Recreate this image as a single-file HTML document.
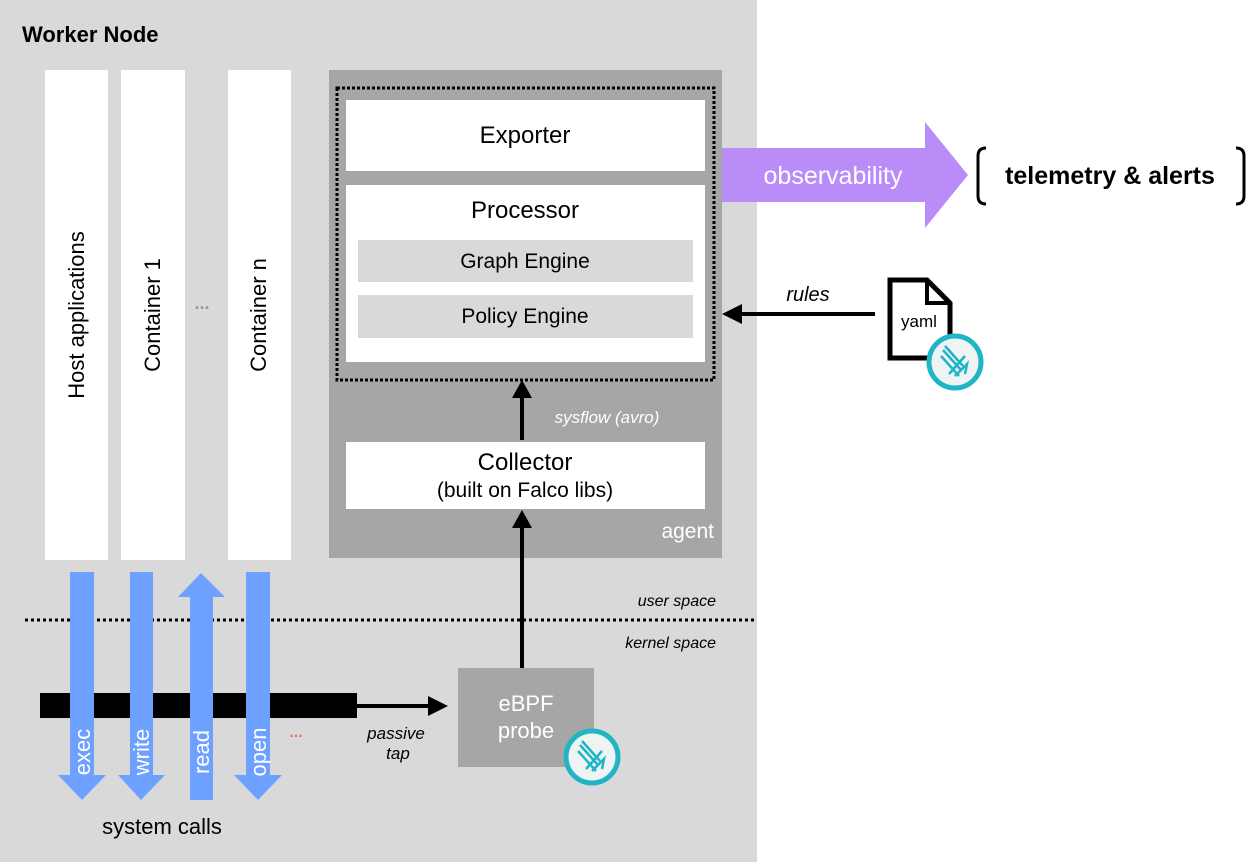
<!DOCTYPE html>
<html><head><meta charset="utf-8"><style>
body{margin:0;width:1252px;height:862px;background:#fff;overflow:hidden;font-family:"Liberation Sans",sans-serif}
</style></head><body>
<svg width="1252" height="862" xmlns="http://www.w3.org/2000/svg" font-family="Liberation Sans, sans-serif">
<defs>
<g id="falco">
<circle r="26" fill="#eef3f3" stroke="#1fb5c4" stroke-width="5"/>
<g stroke="#1fb5c4" stroke-width="2.5" fill="none">
<path d="M-12,-12 L6,8 M-14,-6 L4,14 M-10,-16 L8,4"/>
<path d="M-6,12 L10,-6 M0,14 L12,2 L10,12"/>
</g>
</g>
</defs>
<rect x="0" y="0" width="757" height="862" fill="#d9d9d9"/>
<text x="22" y="42" font-size="22" font-weight="bold" fill="#000">Worker Node</text>
<rect x="45" y="70" width="63" height="490" fill="#fff"/>
<rect x="121" y="70" width="64" height="490" fill="#fff"/>
<rect x="228" y="70" width="63" height="490" fill="#fff"/>
<text transform="translate(84,315) rotate(-90)" text-anchor="middle" font-size="22">Host applications</text>
<text transform="translate(160,315) rotate(-90)" text-anchor="middle" font-size="22">Container 1</text>
<text transform="translate(266,315) rotate(-90)" text-anchor="middle" font-size="22">Container n</text>
<text x="202" y="309" text-anchor="middle" font-size="18" font-weight="bold" fill="#999">...</text>
<rect x="329" y="70" width="393" height="488" fill="#a6a6a6"/>
<rect x="337" y="88" width="377" height="292" fill="none" stroke="#000" stroke-width="3" stroke-dasharray="3,2"/>
<rect x="346" y="100" width="359" height="71" fill="#fff"/>
<text x="525" y="143" text-anchor="middle" font-size="24">Exporter</text>
<rect x="346" y="185" width="359" height="177" fill="#fff"/>
<text x="525" y="218" text-anchor="middle" font-size="24">Processor</text>
<rect x="358" y="240" width="335" height="42" fill="#d9d9d9"/>
<text x="525" y="268" text-anchor="middle" font-size="21">Graph Engine</text>
<rect x="358" y="295" width="335" height="43" fill="#d9d9d9"/>
<text x="525" y="323" text-anchor="middle" font-size="21">Policy Engine</text>
<line x1="522" y1="440" x2="522" y2="395" stroke="#000" stroke-width="4"/>
<polygon points="512,398 532,398 522,380" fill="#000"/>
<text x="607" y="423" text-anchor="middle" font-size="17" font-style="italic" fill="#fff">sysflow (avro)</text>
<rect x="346" y="442" width="359" height="67" fill="#fff"/>
<text x="525" y="470" text-anchor="middle" font-size="24">Collector</text>
<text x="525" y="497" text-anchor="middle" font-size="21">(built on Falco libs)</text>
<text x="714" y="538" text-anchor="end" font-size="21" fill="#fff">agent</text>
<line x1="522" y1="668" x2="522" y2="525" stroke="#000" stroke-width="4"/>
<polygon points="512,528 532,528 522,510" fill="#000"/>
<line x1="25" y1="620" x2="757" y2="620" stroke="#000" stroke-width="3" stroke-dasharray="3,3"/>
<text x="716" y="606" text-anchor="end" font-size="16" font-style="italic">user space</text>
<text x="716" y="648" text-anchor="end" font-size="16" font-style="italic">kernel space</text>
<rect x="40" y="693" width="317" height="25" fill="#000"/>
<line x1="357" y1="706" x2="432" y2="706" stroke="#000" stroke-width="4"/>
<polygon points="428,696 448,706 428,716" fill="#000"/>
<text x="396" y="739" text-anchor="middle" font-size="17" font-style="italic">passive</text>
<text x="398" y="759" text-anchor="middle" font-size="17" font-style="italic">tap</text>
<g fill="#6ea1ff">
<rect x="70" y="572" width="24" height="205"/><polygon points="58,775 106,775 82,800"/>
<rect x="130" y="572" width="23" height="205"/><polygon points="118,775 165,775 141,800"/>
<rect x="190" y="595" width="23" height="205"/><polygon points="178,597 225,597 201,573"/>
<rect x="246" y="572" width="24" height="205"/><polygon points="234,775 282,775 258,800"/>
</g>
<g fill="#fff" font-size="22">
<text transform="translate(90,752) rotate(-90)" text-anchor="middle">exec</text>
<text transform="translate(149,752) rotate(-90)" text-anchor="middle">write</text>
<text transform="translate(209,752) rotate(-90)" text-anchor="middle">read</text>
<text transform="translate(266,752) rotate(-90)" text-anchor="middle">open</text>
</g>
<text x="296" y="737" text-anchor="middle" font-size="16" font-weight="bold" fill="#f07060">...</text>
<text x="162" y="834" text-anchor="middle" font-size="22">system calls</text>
<rect x="458" y="668" width="136" height="99" fill="#a6a6a6"/>
<text x="526" y="711" text-anchor="middle" font-size="22" fill="#fff">eBPF</text>
<text x="526" y="738" text-anchor="middle" font-size="22" fill="#fff">probe</text>
<use href="#falco" x="592" y="757"/>
<polygon points="722,148 925,148 925,122 968,175 925,228 925,202 722,202" fill="#b98cf8"/>
<text x="833" y="184" text-anchor="middle" font-size="25" fill="#fff">observability</text>
<path d="M986,148 Q978,148 978,156 L978,196 Q978,204 986,204" fill="none" stroke="#000" stroke-width="3"/>
<path d="M1236,148 Q1244,148 1244,156 L1244,196 Q1244,204 1236,204" fill="none" stroke="#000" stroke-width="3"/>
<text x="1110" y="184" text-anchor="middle" font-size="25" font-weight="bold">telemetry &amp; alerts</text>
<line x1="875" y1="314" x2="740" y2="314" stroke="#000" stroke-width="4"/>
<polygon points="742,304 742,324 722,314" fill="#000"/>
<text x="808" y="301" text-anchor="middle" font-size="20" font-style="italic">rules</text>
<path d="M890,280 L927,280 L950,303 L950,358 L890,358 Z" fill="#fff" stroke="#000" stroke-width="5"/>
<path d="M927,280 L927,303 L950,303" fill="none" stroke="#000" stroke-width="4"/>
<text x="919" y="327" text-anchor="middle" font-size="17">yaml</text>
<use href="#falco" x="955" y="362"/>
</svg>
</body></html>
